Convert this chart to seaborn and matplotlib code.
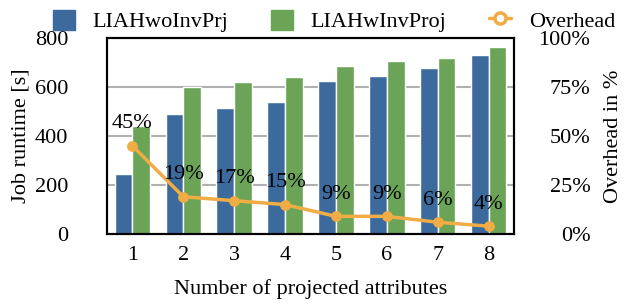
import numpy as np
import pandas as pd
import matplotlib
matplotlib.use("Agg")
import matplotlib.pyplot as plt
import seaborn as sns
from matplotlib.patches import Patch
from matplotlib.lines import Line2D
from matplotlib.ticker import FuncFormatter

categories = ["1", "2", "3", "4", "5", "6", "7", "8"]
wo_inv = [243, 491, 515, 540, 623, 643, 676, 730]
w_inv = [441, 602, 619, 639, 684, 705, 717, 763]
overhead = [45, 19, 17, 15, 9, 9, 6, 4]
series_names = ["LIAHwoInvPrj", "LIAHwInvProj"]

BLUE = "#3C6A9D"
GREEN = "#6BA457"
ORANGE = "#F0AC45"

sns.set_style("white")
plt.rcParams["font.family"] = ["Liberation Serif", "DejaVu Serif"]
plt.rcParams["font.size"] = 16
plt.rcParams["text.color"] = "black"
plt.rcParams["axes.labelcolor"] = "black"
plt.rcParams["xtick.color"] = "black"
plt.rcParams["ytick.color"] = "black"

df = pd.DataFrame({
    "cat": categories * 2,
    "val": wo_inv + w_inv,
    "series": [series_names[0]] * len(categories) + [series_names[1]] * len(categories),
})

fig = plt.figure(figsize=(6.3, 3.06), dpi=100)
ax = fig.add_axes([107 / 630, 1 - 234 / 306, (514 - 107) / 630, (234 - 38) / 306])

sns.barplot(data=df, x="cat", y="val", hue="series", order=categories,
            hue_order=series_names, palette=[BLUE, GREEN], width=0.7,
            saturation=1, ax=ax, legend=False, zorder=2)

ax.set_ylim(0, 800)
ax.set_xlim(-0.5, len(categories) - 0.5)
ax.set_yticks([0, 200, 400, 600, 800])
ax.yaxis.grid(True, color="#B0B0B0", linewidth=1.5, zorder=0)
ax.set_axisbelow(True)
for s in ax.spines.values():
    s.set_color("black")
    s.set_linewidth(1.5)
ax.tick_params(axis="y", length=0, pad=28, labelsize=16)
ax.tick_params(axis="x", length=0, pad=9, labelsize=16)
ax.set_xlabel("Number of projected attributes", fontsize=16, labelpad=10)
ax.set_ylabel("Job runtime [s]", fontsize=16, labelpad=3)

ax2 = ax.twinx()
xpos = np.arange(len(categories))
sns.lineplot(x=xpos, y=overhead, ax=ax2, color=ORANGE, linewidth=2.5,
             marker="o", markersize=7, markeredgecolor=ORANGE, zorder=3)
ax2.set_ylim(0, 100)
ax2.set_yticks([0, 25, 50, 75, 100])
ax2.yaxis.set_major_formatter(FuncFormatter(lambda v, p: f"{int(v)}%"))
ax2.tick_params(axis="y", length=0, pad=55, labelsize=16)
for lbl in ax2.get_yticklabels():
    lbl.set_horizontalalignment("right")
ax2.set_ylabel("Overhead in %", fontsize=16, labelpad=10)
for s in ax2.spines.values():
    s.set_color("black")
    s.set_linewidth(1.5)

for x, v in zip(xpos, overhead):
    ax2.annotate(f"{v}%", (x, v), xytext=(0, 9), textcoords="offset points",
                 ha="center", va="bottom", fontsize=16)

handles = [
    Patch(facecolor=BLUE, edgecolor=BLUE),
    Patch(facecolor=GREEN, edgecolor=GREEN),
    Line2D([0], [0], color=ORANGE, linewidth=2.5, marker="o", markersize=8,
           markerfacecolor="white", markeredgecolor=ORANGE, markeredgewidth=2.5),
]
fig.legend(handles, series_names + ["Overhead"], loc="center",
           bbox_to_anchor=(0.53, 1 - 21 / 306), ncol=3, frameon=False,
           fontsize=16, handlelength=1.0, handleheight=1.0, columnspacing=1.9,
           handletextpad=0.8)

fig.savefig("out.png", dpi=100)
